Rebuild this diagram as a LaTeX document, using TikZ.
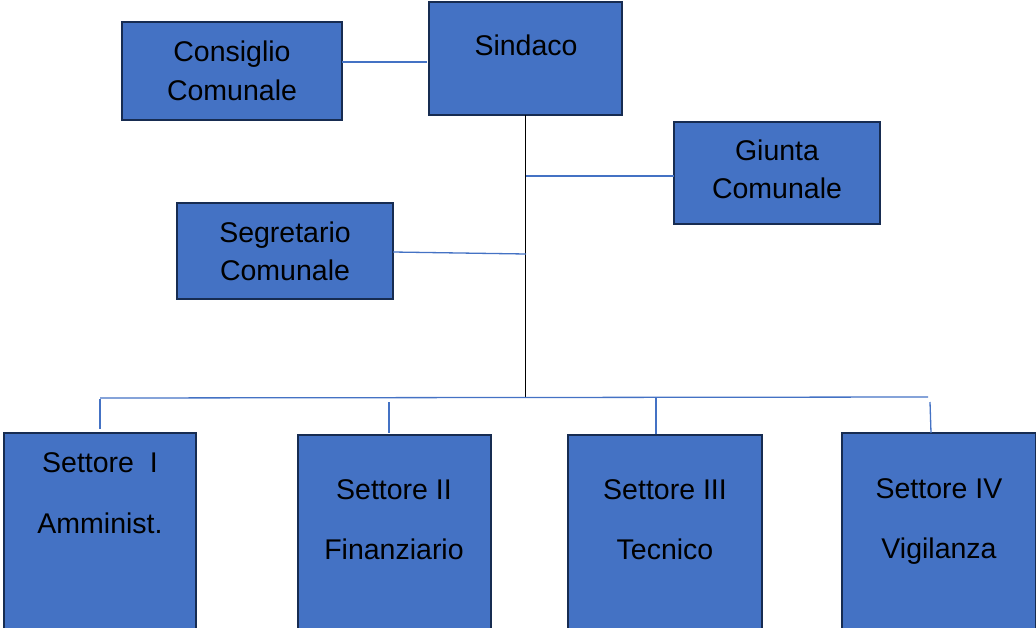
\documentclass[tikz,border=0pt]{standalone}
\usepackage{fontspec}
\setmainfont{Liberation Sans}
\definecolor{boxfill}{HTML}{4472C4}
\definecolor{boxline}{HTML}{172C51}
\definecolor{linkblue}{HTML}{4472C4}
\begin{document}
\begin{tikzpicture}[x=1pt,y=-1pt,
  orgbox/.style={draw=boxline,line width=2.7pt,fill=boxfill,inner sep=0pt,outer sep=0pt,anchor=north west},
  lbl/.style={anchor=base,inner sep=0pt,font=\fontsize{28.5}{33}\selectfont},
  bluelink/.style={draw=linkblue,line width=1.3pt},
  blacklink/.style={draw=black,line width=1.3pt}]
\useasboundingbox (0,0) rectangle (1036,627);
\clip (0,0) rectangle (1036,627);
% boxes
\node[orgbox,minimum width=220pt,minimum height=98pt] (cons) at (122,22) {};
\node[orgbox,minimum width=193pt,minimum height=113pt] (sind) at (429,2) {};
\node[orgbox,minimum width=206pt,minimum height=102pt] (giun) at (674,122) {};
\node[orgbox,minimum width=216pt,minimum height=96pt] (segr) at (177,203) {};
\node[orgbox,minimum width=192pt,minimum height=210pt] (s1) at (4,433) {};
\node[orgbox,minimum width=193pt,minimum height=210pt] (s2) at (298,435) {};
\node[orgbox,minimum width=194pt,minimum height=210pt] (s3) at (568,435) {};
\node[orgbox,minimum width=194pt,minimum height=210pt] (s4) at (842,433) {};
% labels
\node[lbl] (consA) at (232,61) {Consiglio};
\node[lbl] (consB) at (232,100) {Comunale};
\node[lbl] (sindA) at (526,55) {Sindaco};
\node[lbl] (giunA) at (777,160) {Giunta};
\node[lbl] (giunB) at (777,198) {Comunale};
\node[lbl] (segrA) at (285,242) {Segretario};
\node[lbl] (segrB) at (285,280) {Comunale};
\node[lbl] (s1A) at (100,472) {Settore\ \ I};
\node[lbl] (s1B) at (100,533) {Amminist.};
\node[lbl] (s2A) at (394,499) {Settore II};
\node[lbl] (s2B) at (394,559) {Finanziario};
\node[lbl] (s3A) at (665,499) {Settore III};
\node[lbl] (s3B) at (665,559) {Tecnico};
\node[lbl] (s4A) at (939,498) {Settore IV};
\node[lbl] (s4B) at (939,558) {Vigilanza};
% connector points
\coordinate (cs) at (0,62);
\coordinate (csE) at (427,62);
\coordinate (gj) at (526,176);
\coordinate (sg) at (526,254);
\coordinate (sgE) at (393,252);
\coordinate (trunk) at (526,398);
\coordinate (busL) at (100,398);
\coordinate (busR) at (928,397);
\coordinate (d1) at (100,399);
\coordinate (d1b) at (100,429);
\coordinate (d2) at (389,402);
\coordinate (d2b) at (389,433);
\coordinate (d3) at (656,398);
\coordinate (d3b) at (656,434);
\coordinate (d4) at (930,402);
\coordinate (d4b) at (931,433);
% connectors
\draw[bluelink] (cons.east |- cs) -- (csE);
\draw[blacklink] (sind.south) -- (sind.south |- trunk);
\draw[bluelink] (gj) -- (giun.west |- gj);
\draw[bluelink] (sgE) -- (sg);
\draw[bluelink] (busL) -- (busR);
\draw[bluelink] (d1) -- (d1b);
\draw[bluelink] (d2) -- (d2b);
\draw[bluelink] (d3) -- (d3b);
\draw[bluelink] (d4) -- (d4b);
\end{tikzpicture}
\end{document}
